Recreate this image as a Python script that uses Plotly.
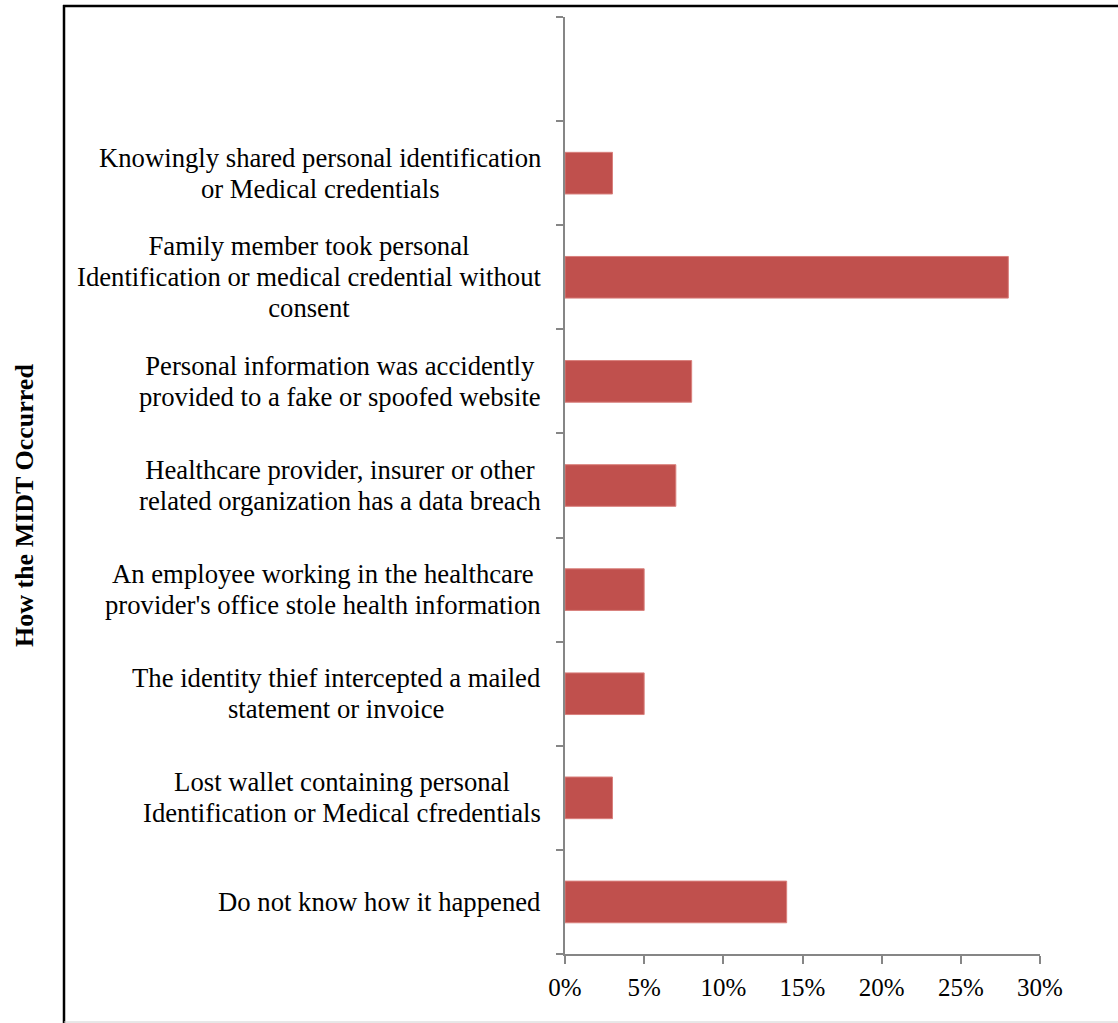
import plotly.graph_objects as go

# Survey results: how the medical identity theft occurred (share of respondents)
categories = [
    "Do not know how it happened",
    "Lost wallet containing personal<br>Identification or Medical cfredentials",
    "The identity thief intercepted a mailed<br>statement or invoice",
    "An employee working in the healthcare<br>provider's office stole health information",
    "Healthcare provider, insurer or other<br>related organization has a data breach",
    "Personal information was accidently<br>provided to a fake or spoofed website",
    "Family member took personal<br>Identification or medical credential without<br>consent",
    "Knowingly shared personal identification<br>or Medical credentials",
]
shares = [0.14, 0.03, 0.05, 0.05, 0.07, 0.08, 0.28, 0.03]
x_ticks = [0, 0.05, 0.10, 0.15, 0.20, 0.25, 0.30]
x_tick_labels = ["0%", "5%", "10%", "15%", "20%", "25%", "30%"]
axis_title = "How the MIDT Occurred"

W, H = 1118, 1023
L, R, T, B = 565, 1040, 17, 954  # plot area edges in pixels
FONT = "Liberation Serif, Times New Roman, serif"
AXIS_GREY = "#868686"
LABEL_SIZE = 26.7          # glyph size of category labels
LABEL_LINE_GAP = 31        # baseline-to-baseline distance in wrapped labels


def px_x(p):
    return (p - L) / (R - L)


def px_y(p):
    return (B - p) / (B - T)


def label_markup(text):
    # larger glyphs inside a tighter line pitch
    lines = text.split("<br>")
    return "<br>".join(
        f'<span style="font-size:{LABEL_SIZE}px">{ln}</span>' for ln in lines
    )


positions = list(range(len(categories)))

fig = go.Figure(
    go.Bar(
        x=shares,
        y=positions,
        orientation="h",
        width=0.4,
        marker=dict(color="#C0504D", line=dict(color="#D9807D", width=1)),
        hoverinfo="skip",
    )
)

# Category labels: right-aligned blocks with centred lines
annotations = [
    dict(
        text=label_markup(lab),
        xref="paper",
        yref="y",
        x=0,
        xshift=-22,
        y=pos,
        xanchor="right",
        yanchor="middle",
        align="center",
        showarrow=False,
        font=dict(family=FONT, size=LABEL_LINE_GAP / 1.3, color="black"),
    )
    for lab, pos in zip(categories, positions)
]
annotations.append(
    dict(
        text=f"<b>{axis_title}</b>",
        xref="paper",
        yref="paper",
        x=px_x(25),
        y=px_y(506),
        xanchor="center",
        yanchor="middle",
        textangle=-90,
        showarrow=False,
        font=dict(family=FONT, size=26, color="black"),
    )
)

shapes = [
    # chart frame: left and top edges, faint bottom edge
    dict(type="line", xref="paper", yref="paper",
         x0=px_x(64), x1=px_x(64), y0=px_y(5), y1=px_y(1023),
         line=dict(color="black", width=2.5)),
    dict(type="line", xref="paper", yref="paper",
         x0=px_x(63), x1=px_x(1118), y0=px_y(6), y1=px_y(6),
         line=dict(color="black", width=2.5)),
    dict(type="line", xref="paper", yref="paper",
         x0=px_x(64), x1=px_x(1118), y0=px_y(1022), y1=px_y(1022),
         line=dict(color="#D0D0D0", width=1)),
]

fig.update_layout(
    width=W,
    height=H,
    autosize=False,
    margin=dict(l=L, r=W - R, t=T, b=H - B, pad=0),
    paper_bgcolor="white",
    plot_bgcolor="white",
    showlegend=False,
    annotations=annotations,
    shapes=shapes,
    xaxis=dict(
        range=[0, 0.30],
        tickvals=x_ticks,
        ticktext=x_tick_labels,
        showgrid=False,
        zeroline=False,
        showline=True,
        linecolor=AXIS_GREY,
        linewidth=1.5,
        ticks="outside",
        ticklen=8,
        tickwidth=1.5,
        tickcolor=AXIS_GREY,
        ticklabelstandoff=2,
        tickfont=dict(family=FONT, size=25, color="black"),
        fixedrange=True,
    ),
    yaxis=dict(
        range=[-0.5, len(categories) + 0.5],
        tickvals=[i - 0.5 for i in range(len(categories) + 2)],
        showticklabels=False,
        showgrid=False,
        zeroline=False,
        showline=True,
        linecolor=AXIS_GREY,
        linewidth=1.5,
        ticks="outside",
        ticklen=7,
        tickwidth=1.5,
        tickcolor=AXIS_GREY,
        fixedrange=True,
    ),
)

fig.write_html("out.html", config={"displayModeBar": False})
